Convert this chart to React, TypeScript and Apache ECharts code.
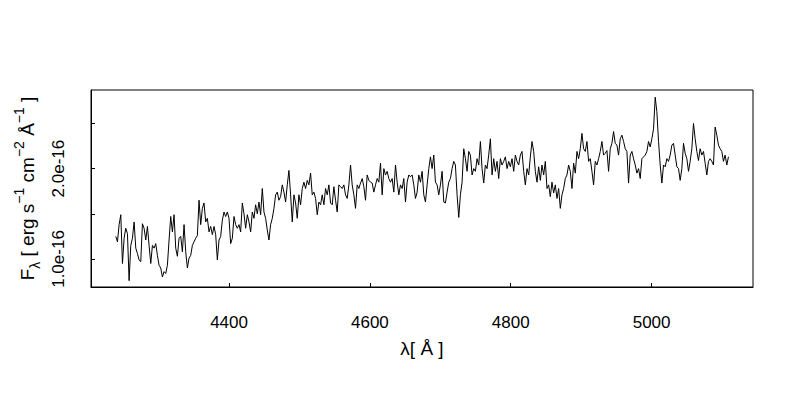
import React, { useEffect, useRef } from 'react';
import * as echarts from 'echarts';

// wavelength grid (Å) of the sampled spectrum
const WAVE_START = 4239.2;
const WAVE_STEP = 2.364;

// flux in units of 1e-16 erg s^-1 cm^-2 Å^-1
const FLUX_BLUE = [
  1.25, 1.19, 1.38, 1.49, 0.95, 1.23, 1.34, 1.28, 0.76, 1.15,
  1.23, 1.41, 1.12, 1.06, 0.99, 0.97, 1.39, 1.34, 1.21, 1.36,
  1.15, 0.95, 1.15, 1.12, 1.17, 1.04, 0.93, 0.90, 0.80, 0.86,
  0.84, 0.93, 1.21, 1.47, 1.30, 1.49, 1.12, 1.03, 1.23, 1.25,
  1.08, 1.38, 1.08, 0.90, 1.01, 1.04, 1.15, 1.19, 1.23, 1.26,
  1.65, 1.38, 1.56, 1.62, 1.41, 1.45, 1.30, 1.36, 1.27, 1.36,
  1.27, 0.99, 1.21, 1.25, 1.43, 1.52, 1.47, 1.52, 1.45, 1.17,
  1.23, 1.47, 1.38, 1.34, 1.38, 1.30, 1.62, 1.50, 1.34, 1.49,
  1.41, 1.30, 1.52, 1.45, 1.60, 1.50, 1.63, 1.49, 1.78, 1.52,
  1.45, 1.32, 1.21, 1.38, 1.45, 1.56, 1.71, 1.74, 1.65, 1.69,
  1.82, 1.74, 1.63, 1.82, 1.98, 1.71, 1.41, 1.71, 1.62, 1.45,
  1.71, 1.60, 1.78, 1.85, 1.78, 1.87, 1.82, 1.95, 1.71, 1.74,
  1.67, 1.49, 1.63, 1.60, 1.71, 1.60, 1.78, 1.71, 1.82,
];
const FLUX_MID = [
  1.62, 1.60, 1.80, 1.65, 1.52, 1.82, 1.80, 1.78, 1.82, 1.71,
  1.67, 1.82, 2.04, 1.82, 1.71, 1.56, 1.82, 1.78, 1.84, 1.89,
  1.80, 1.65, 1.93, 1.87, 1.85, 1.84, 1.74, 1.82, 1.89, 1.85,
  2.06, 1.71, 2.00, 1.93, 1.97, 1.89, 1.85, 1.89, 1.74, 2.04,
  1.85, 1.71, 1.82, 1.78, 1.89, 1.63, 1.85, 1.93, 1.91, 1.93,
  1.82, 1.67, 1.74, 1.93, 1.85, 1.97, 1.71, 1.63, 1.82, 2.00,
  2.13, 2.00, 2.15, 1.85, 1.82, 1.71, 1.82, 1.97, 1.63, 1.62,
  1.74, 1.85, 1.89, 2.00, 2.08, 2.04, 1.71, 1.46, 1.71, 1.85,
  2.22, 2.11, 1.97, 2.19, 2.15, 1.93, 2.00, 1.97, 2.11, 2.04,
  2.30, 2.00, 1.84, 2.04, 2.00, 2.15, 2.33, 1.93, 2.11, 1.97,
  2.08, 1.89, 2.11, 2.04, 2.08, 2.13, 2.00, 2.08, 2.02, 2.11,
  1.97, 2.15, 2.08, 2.04, 2.15, 2.19, 1.97, 1.82, 2.00, 1.93,
  2.13, 2.30, 2.19, 1.97, 1.85, 2.02,
];
const FLUX_RED = [
  1.87, 2.04, 1.93, 2.08, 1.78, 1.82, 1.69, 1.85, 1.73, 1.82,
  1.67, 1.78, 1.56, 1.71, 1.78, 1.89, 1.93, 2.04, 1.97, 1.78,
  2.06, 1.95, 2.19, 2.11, 2.22, 2.39, 2.22, 2.19, 2.30, 2.08,
  2.11, 1.97, 1.82, 2.08, 2.04, 2.11, 2.19, 2.30, 2.15, 2.17,
  2.20, 1.97, 2.22, 2.28, 2.41, 2.28, 2.26, 2.15, 2.33, 2.37,
  2.30, 2.22, 2.19, 1.84, 2.15, 2.19, 2.11, 2.04, 1.95, 2.00,
  1.89, 2.11, 2.13, 2.15, 2.19, 2.30, 2.24, 2.33, 2.44, 2.79,
  2.63, 2.30, 2.04, 1.84, 2.04, 2.02, 2.11, 2.08, 2.15, 2.26,
  2.28, 2.15, 2.02, 2.00, 1.87, 2.00, 2.28, 2.17, 2.11, 1.97,
  2.08, 2.22, 2.50, 2.33, 2.19, 2.09, 2.22, 2.15, 2.19, 2.06,
  1.93, 2.08, 2.11, 2.08, 2.04, 2.46, 2.37, 2.26, 2.22, 2.19,
  2.08, 2.15, 2.04, 2.13,
];

const X_TICKS = [4400, 4600, 4800, 5000];
const Y_TICKS = [1.0, 1.5, 2.0, 2.5];
const Y_LABELS = [1.0, 2.0];
const X_RANGE = [4204, 5144];
const Y_RANGE = [0.69, 2.87];

export default function App() {
  const ref = useRef<HTMLDivElement>(null);
  useEffect(() => {
    const chart = echarts.init(ref.current!, null, { renderer: 'svg' });
    const flux = [...FLUX_BLUE, ...FLUX_MID, ...FLUX_RED];
    const data = flux.map((v, i) => [WAVE_START + i * WAVE_STEP, v]);
    const font = '"Liberation Sans", Arial, Helvetica, sans-serif';
    const axisBase = {
      type: 'value',
      axisLine: { show: true, onZero: false, lineStyle: { color: '#000', width: 1 } },
      splitLine: { show: false },
    };
    chart.setOption({
      animation: false,
      backgroundColor: '#ffffff',
      grid: {
        left: 91, right: 47, top: 90, bottom: 113,
        show: true, borderColor: '#000', borderWidth: 1,
        backgroundColor: 'transparent',
        containLabel: false,
        outerBoundsMode: 'none',
      },
      xAxis: {
        ...axisBase,
        min: X_RANGE[0], max: X_RANGE[1],
        axisTick: { show: true, inside: true, length: 4, lineStyle: { color: '#000' }, customValues: X_TICKS },
        axisLabel: {
          customValues: X_TICKS, margin: 27, fontSize: 17, color: '#000', fontFamily: font,
          formatter: (v: number) => String(v),
        },
        name: 'λ[ Å ]',
        nameLocation: 'middle',
        nameGap: 52,
        nameTextStyle: { fontSize: 19, color: '#000', fontFamily: font },
      },
      yAxis: {
        ...axisBase,
        min: Y_RANGE[0], max: Y_RANGE[1],
        axisTick: { show: true, inside: true, length: 4, lineStyle: { color: '#000' }, customValues: Y_TICKS },
        axisLabel: {
          customValues: Y_LABELS, rotate: 90, margin: 24, fontSize: 17, color: '#000', fontFamily: font,
          formatter: (v: number) => v.toFixed(1) + 'e-16',
        },
        name: '{b|F}{sub|λ}{b| [ erg s}{sup|−1}{b| cm}{sup|−2}{b| Å}{sup|−1}{b| ]}',
        nameLocation: 'middle',
        nameRotate: 90,
        nameGap: 47,
        nameTextStyle: {
          color: '#000', fontFamily: font, fontSize: 19,
          rich: {
            b: { fontSize: 19, fontFamily: font, color: '#000', lineHeight: 30 },
            sub: { fontSize: 14, fontFamily: font, color: '#000', verticalAlign: 'bottom', lineHeight: 18 },
            sup: { fontSize: 14, fontFamily: font, color: '#000', verticalAlign: 'top', lineHeight: 14 },
          },
        },
      },
      series: [
        {
          type: 'line',
          data,
          showSymbol: false,
          symbol: 'none',
          silent: true,
          lineStyle: { color: '#000', width: 1 },
        },
      ],
    });
    return () => chart.dispose();
  }, []);
  return (
    <div
      ref={ref}
      style={{ position: 'fixed', left: 0, top: 0, width: 800, height: 400, background: '#fff' }}
    />
  );
}
